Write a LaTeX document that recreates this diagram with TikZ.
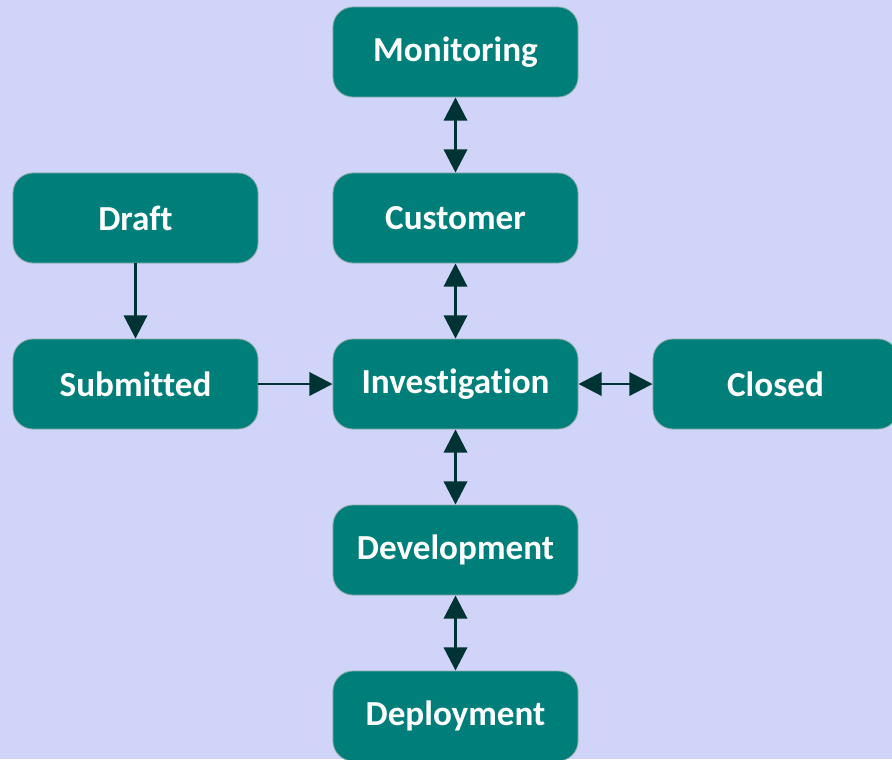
\documentclass[tikz,border=0pt]{standalone}
\usepackage{fontspec}
\setmainfont{Carlito}[Ligatures={NoCommon}]
\usetikzlibrary{arrows.meta}

\definecolor{bgback}{RGB}{208,212,248}
\definecolor{boxfill}{RGB}{0,127,122}
\definecolor{boxedge}{RGB}{140,170,168}
\definecolor{arrowcol}{RGB}{0,51,51}

\tikzset{
    state/.style={draw=boxedge, line width=0.6pt, fill=boxfill, rounded corners=0.5cm,
        minimum width=6.125cm, minimum height=2.25cm, inner sep=0pt,
        text=white, font=\fontsize{25}{30}\selectfont\bfseries},
    flow/.style={arrowcol, line width=2.1pt, -{Triangle[length=0.58cm,width=0.58cm]}},
    both/.style={flow, {Triangle[length=0.58cm,width=0.58cm]}-{Triangle[length=0.58cm,width=0.58cm]}}
}

\begin{document}
\begin{tikzpicture}[x=0.025cm, y=-0.025cm]
                    \fill[bgback] (0, 0) rectangle (892, 759);
                    \clip (0, 0) rectangle (892, 759);

                    \node[state] (monitoring)    at (455.5, 52)  {Monitoring};
                    \node[state] (customer)      at (455.5, 218) {Customer};
                    \node[state] (draft)         at (135.5, 218) {Draft};
                    \node[state] (submitted)     at (135.5, 384) {Submitted};
                    \node[state] (investigation) at (455.5, 384) {Investigation};
                    \node[state] (closed)        at (775.5, 384) {Closed};
                    \node[state] (development)   at (455.5, 550) {Development};
                    \node[state] (deployment)    at (455.5, 716) {Deployment};

                    %\draw[gray, dashed] (monitoring) -- (deployment);

                    \draw[flow] (draft) -- (submitted);
                    \draw[flow] (submitted) -- (investigation);

                    \draw[both] (monitoring) -- (customer);
                    \draw[both] (customer) -- (investigation);
                    \draw[both] (investigation) -- (closed);
                    \draw[both] (investigation) -- (development);
                    \draw[both] (development) -- (deployment);

                \end{tikzpicture}
\end{document}
